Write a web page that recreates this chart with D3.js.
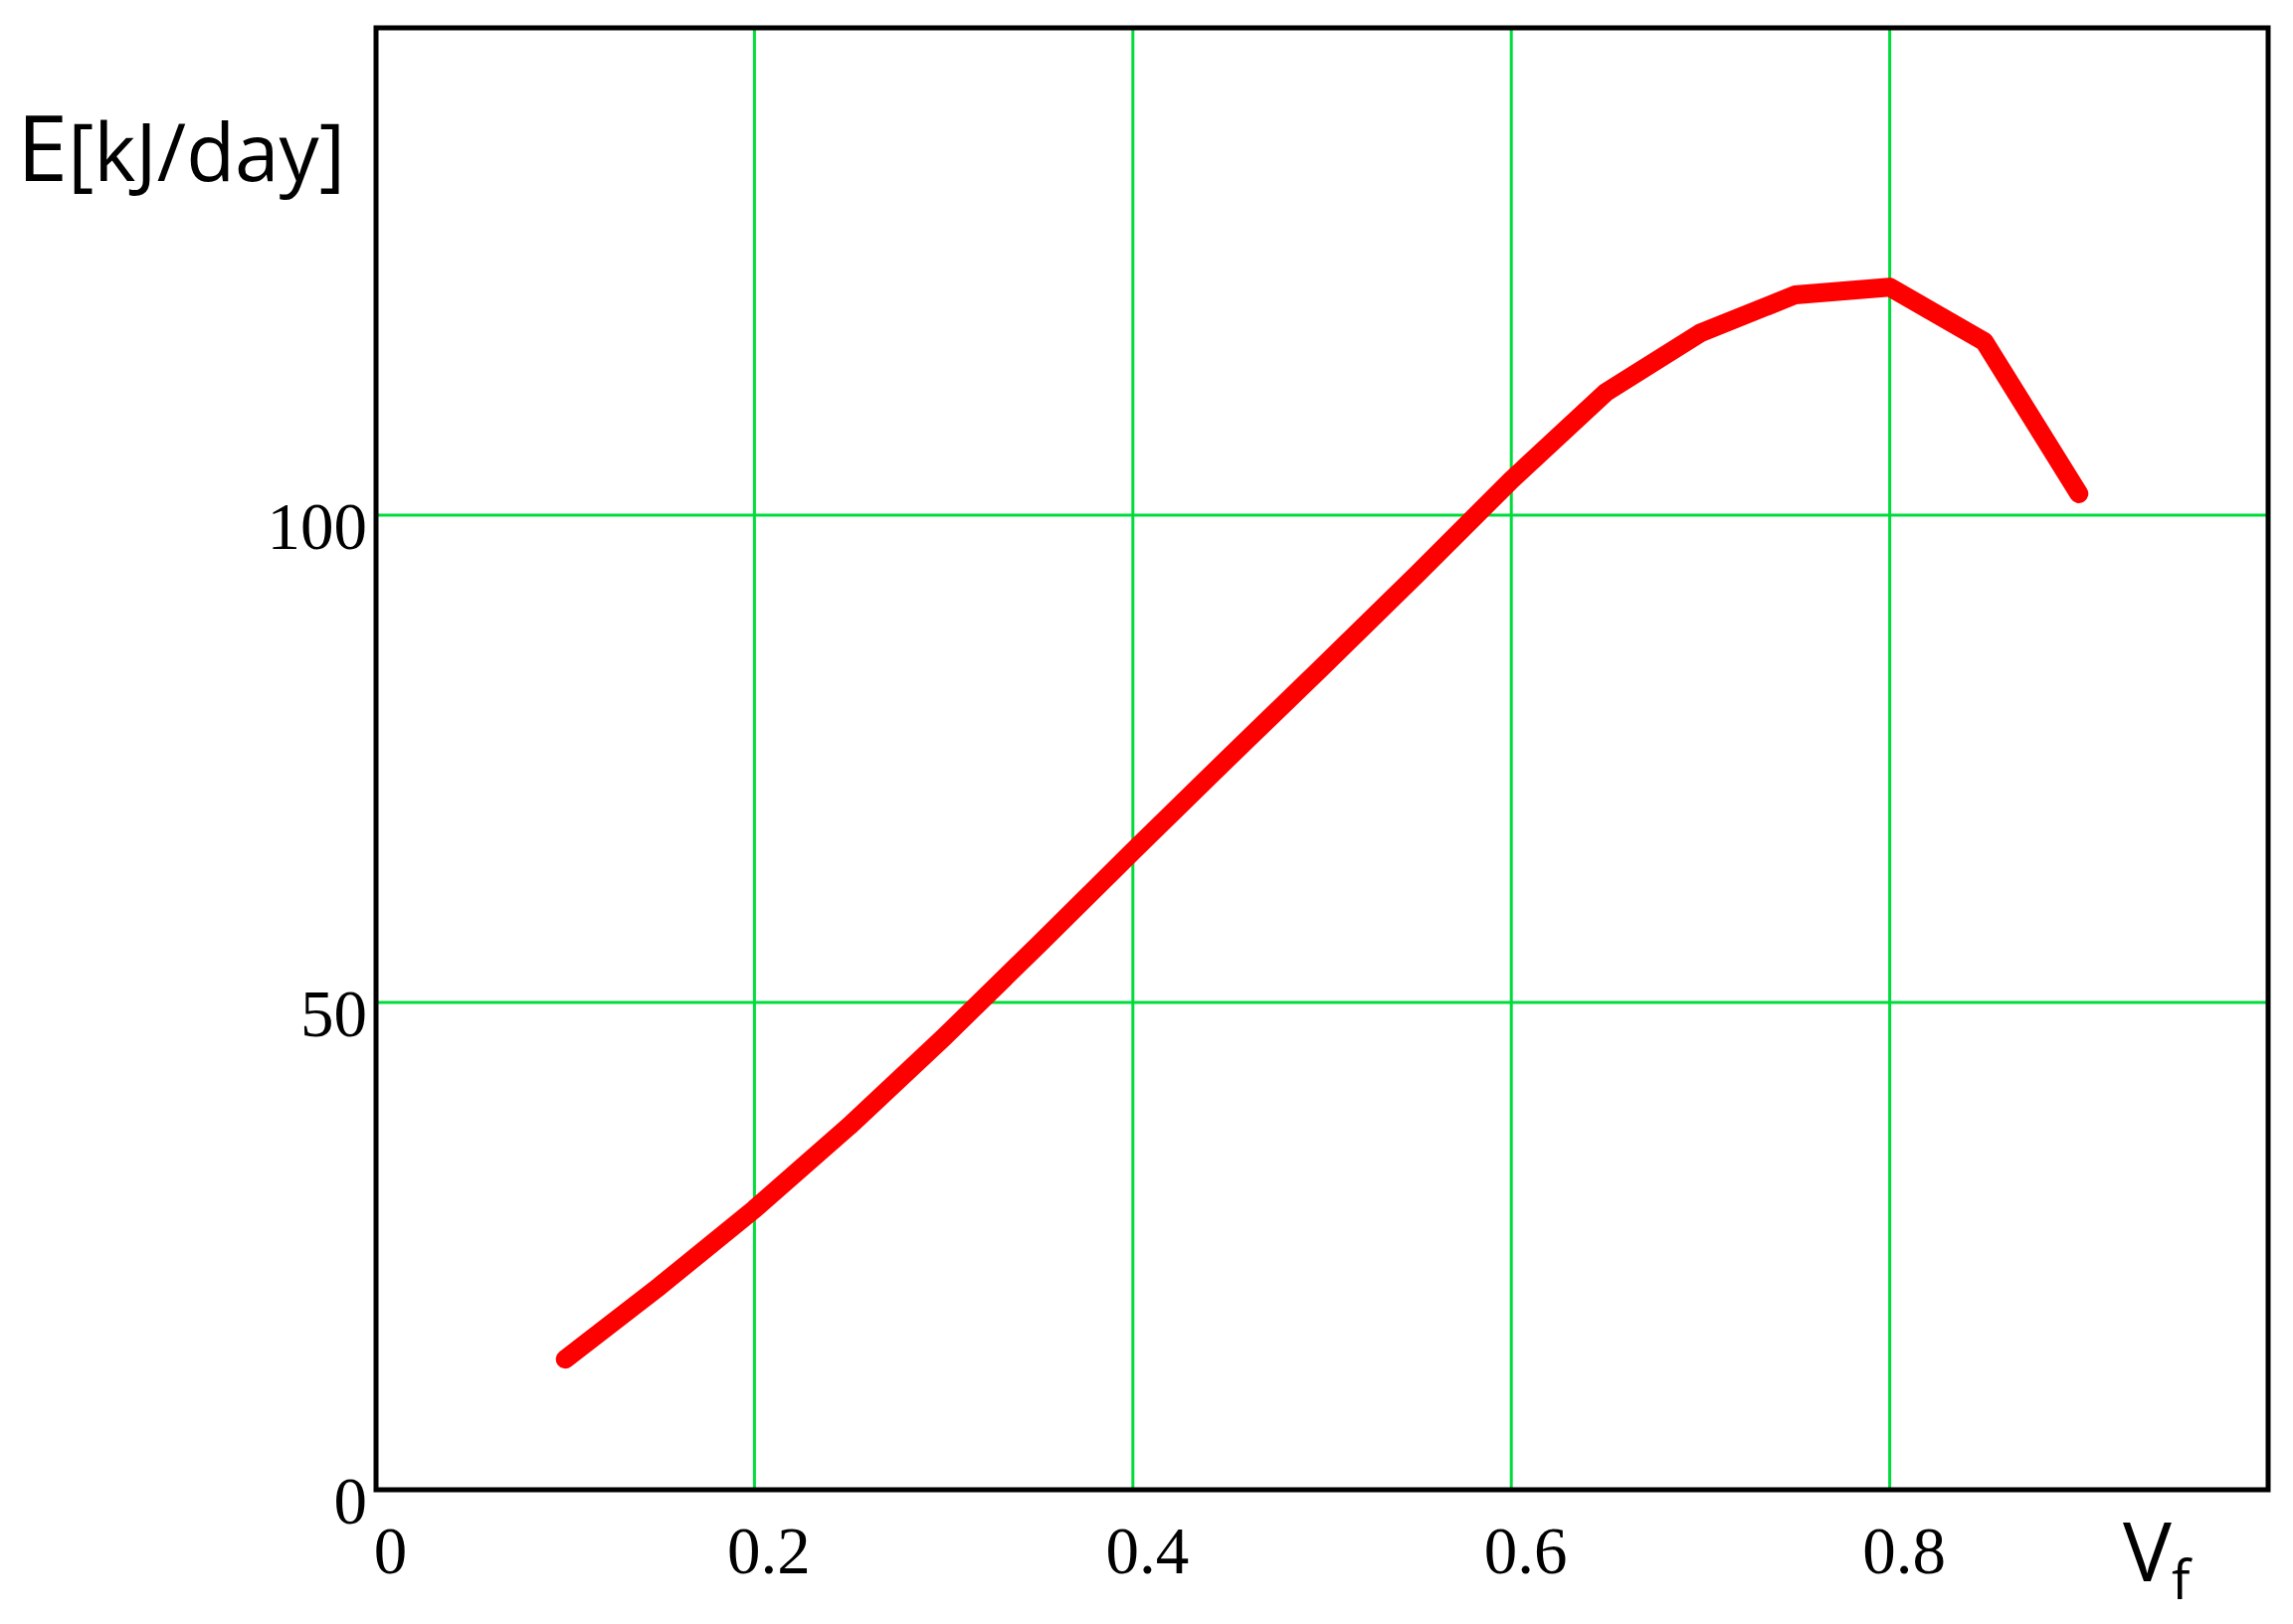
<!DOCTYPE html>
<html>
<head>
<meta charset="utf-8">
<style>
  body { margin: 0; background: #fff; }
  .tick text { font-family: 'Liberation Serif', 'Times New Roman', serif; font-size: 67px; fill: #000; }
  .title { font-family: 'Open Sans', 'Noto Sans', sans-serif; fill: #000; }
</style>
</head>
<body>
<div id="chart"></div>
<script src="https://cdn.jsdelivr.net/npm/d3@7"></script>
<script>
'use strict'

// fibre volume fraction and daily energy
const vf = [0.1, 0.15, 0.2, 0.25, 0.3, 0.35, 0.4, 0.45, 0.5, 0.55, 0.6, 0.65, 0.7, 0.75, 0.8, 0.85, 0.9]
const energy = [13.4, 20.9, 28.8, 37.3, 46.4, 55.9, 65.5, 75.0, 84.4, 93.9, 103.6, 112.6, 118.7, 122.6, 123.4, 117.8, 102.2]

const xTicks = [0, 0.2, 0.4, 0.6, 0.8]
const yTicks = [0, 50, 100]
const xGrid = [0.2, 0.4, 0.6, 0.8]
const yGrid = [50, 100]

const width = 2305
const height = 1633

const x = d3.scaleLinear().domain([0, 1]).range([378, 2280])
const y = d3.scaleLinear().domain([0, 150]).range([1498, 28])

const svg = d3.select('#chart')
  .append('svg')
  .attr('width', width)
  .attr('height', height)
  .style('background', '#fff')

// green grid
svg.append('g')
  .selectAll('line')
  .data(xGrid)
  .enter()
  .append('line')
  .attr('x1', d => x(d))
  .attr('x2', d => x(d))
  .attr('y1', y(0))
  .attr('y2', y(150))
  .attr('stroke', '#00dc3c')
  .attr('stroke-width', 3)

svg.append('g')
  .selectAll('line')
  .data(yGrid)
  .enter()
  .append('line')
  .attr('x1', x(0))
  .attr('x2', x(1))
  .attr('y1', d => y(d))
  .attr('y2', d => y(d))
  .attr('stroke', '#00dc3c')
  .attr('stroke-width', 3)

// the curve
const line = d3.line()
  .x((d, i) => x(vf[i]))
  .y(d => y(d))

svg.append('path')
  .datum(energy)
  .attr('d', line)
  .attr('fill', 'none')
  .attr('stroke', '#ff0000')
  .attr('stroke-width', 19)
  .attr('stroke-linejoin', 'round')
  .attr('stroke-linecap', 'round')

// frame
svg.append('rect')
  .attr('x', x(0))
  .attr('y', y(150))
  .attr('width', x(1) - x(0))
  .attr('height', y(0) - y(150))
  .attr('fill', 'none')
  .attr('stroke', '#000')
  .attr('stroke-width', 5)

// tick labels
const xAxis = svg.append('g')
  .attr('transform', `translate(0, ${y(0)})`)
  .call(d3.axisBottom(x).tickValues(xTicks).tickSize(0)
    .tickFormat(d => d === 0 ? '0' : d3.format('.1f')(d)))
xAxis.select('.domain').remove()
xAxis.selectAll('text')
  .attr('x', 14)
  .attr('y', 84)
  .attr('dy', null)

const yAxis = svg.append('g')
  .attr('transform', `translate(${x(0)}, 0)`)
  .call(d3.axisLeft(y).tickValues(yTicks).tickSize(0))
yAxis.select('.domain').remove()
yAxis.selectAll('text')
  .attr('x', -9)
  .attr('y', 33)
  .attr('dy', null)

// axis titles
const yTitle = svg.append('text')
  .attr('class', 'title')
  .attr('x', 17)
  .attr('y', 182)
yTitle.append('tspan').style('font-size', '92px').text('E')
yTitle.append('tspan').style('font-size', '80px').text('[kJ/day]')

const xTitle = svg.append('text')
  .attr('class', 'title')
  .attr('x', 2134)
  .attr('y', 1590)
xTitle.append('tspan').style('font-size', '82px').text('V')
xTitle.append('tspan').style('font-size', '55px').attr('dy', 18).text('f')
</script>
</body>
</html>
